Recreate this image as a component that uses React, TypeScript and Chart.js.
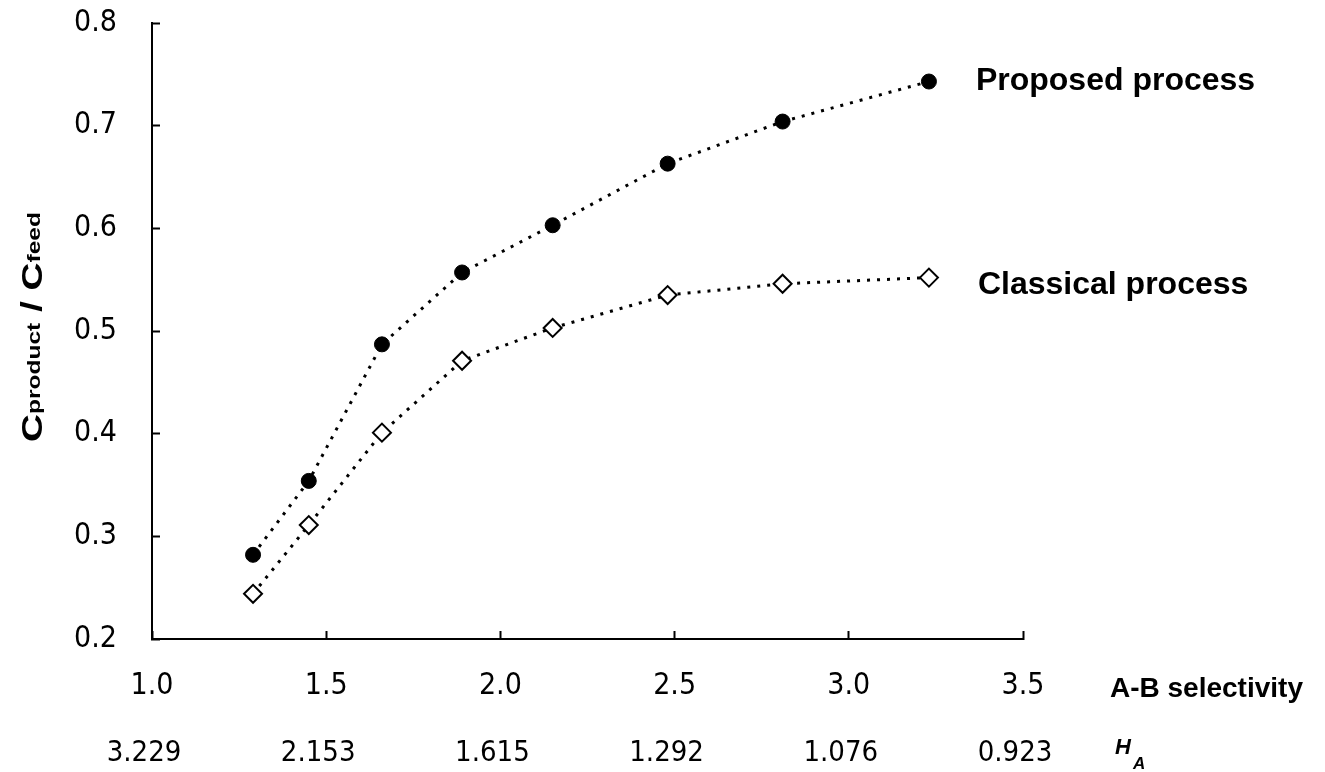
import React, { useEffect, useRef } from "react";
import { Chart, registerables } from "chart.js";

Chart.register(...registerables);

const selectivity = [1.29, 1.45, 1.66, 1.89, 2.15, 2.48, 2.81, 3.23];
const proposed = [0.282, 0.354, 0.487, 0.557, 0.603, 0.663, 0.704, 0.743];
const classical = [0.244, 0.311, 0.401, 0.471, 0.503, 0.535, 0.546, 0.552];
const seriesNames = ["Proposed process", "Classical process"];
const xTickValues = [1.0, 1.5, 2.0, 2.5, 3.0, 3.5];
const haLabels = ["3.229", "2.153", "1.615", "1.292", "1.076", "0.923"];

const FONT = "'Liberation Sans', Arial, sans-serif";
const NARROW = "'Liberation Sans Narrow', 'DejaVu Sans Condensed', 'Liberation Sans', sans-serif";

const annotationPlugin = {
  id: "annotations",
  afterDraw(chart: any) {
    const ctx = chart.ctx;
    ctx.save();
    ctx.fillStyle = "#000";
    ctx.textBaseline = "alphabetic";
    ctx.textAlign = "left";

    // series labels next to the last point of each dataset
    const offsets = [
      { dx: 47, dy: 8 },
      { dx: 49, dy: 16 },
    ];
    seriesNames.forEach((name, i) => {
      const meta = chart.getDatasetMeta(i);
      const last = meta.data[meta.data.length - 1];
      ctx.font = `bold 32px ${FONT}`;
      ctx.fillText(name, last.x + offsets[i].dx, last.y + offsets[i].dy);
    });

    // x axis title to the right of the axis
    const xs = chart.scales.x;
    ctx.font = `bold 28px ${FONT}`;
    ctx.fillText("A-B selectivity", xs.right + 87, 697);

    // H_A label
    ctx.font = `italic bold 22px ${FONT}`;
    ctx.fillText("H", xs.right + 92, 754);
    const hw = ctx.measureText("H").width;
    ctx.font = `italic bold 17px ${FONT}`;
    ctx.fillText("A", xs.right + 92 + hw + 2, 769);

    // y axis title (rotated)
    const ys = chart.scales.y;
    const cy = (ys.top + ys.bottom) / 2 - 4;
    const parts = [
      { t: "C", s: 30, dy: 0 },
      { t: "product", s: 19, dy: -2 },
      { t: " / ", s: 30, dy: 0 },
      { t: "C", s: 30, dy: 0 },
      { t: "feed", s: 19, dy: -2 },
    ];
    let total = 0;
    const widths = parts.map((p) => {
      ctx.font = `bold ${p.s}px ${FONT}`;
      const w = ctx.measureText(p.t).width;
      total += w;
      return w;
    });
    ctx.translate(42, cy);
    ctx.rotate(-Math.PI / 2);
    ctx.scale(1.29, 1);
    let x = -total / 2;
    parts.forEach((p, i) => {
      ctx.font = `bold ${p.s}px ${FONT}`;
      ctx.fillText(p.t, x, p.dy);
      x += widths[i];
    });
    ctx.restore();
  },
};

export default function App() {
  const ref = useRef<HTMLCanvasElement | null>(null);

  useEffect(() => {
    if (!ref.current) return;
    const chart = new Chart(ref.current, {
      type: "line",
      data: {
        datasets: [
          {
            label: seriesNames[0],
            data: selectivity.map((x, i) => ({ x, y: proposed[i] })),
            borderColor: "#000",
            borderWidth: 3,
            borderDash: [3, 7],
            pointStyle: "circle",
            pointRadius: 7.5,
            pointBackgroundColor: "#000",
            pointBorderColor: "#000",
            pointBorderWidth: 1,
            tension: 0,
            fill: false,
          },
          {
            label: seriesNames[1],
            data: selectivity.map((x, i) => ({ x, y: classical[i] })),
            borderColor: "#000",
            borderWidth: 3,
            borderDash: [3, 7],
            pointStyle: "rectRot",
            pointRadius: 9,
            pointBackgroundColor: "#fff",
            pointBorderColor: "#000",
            pointBorderWidth: 2,
            tension: 0,
            fill: false,
          },
        ],
      },
      options: {
        responsive: false,
        animation: false,
        layout: { padding: { left: 0, top: 23, right: 302, bottom: 0 } },
        plugins: {
          legend: { display: false },
          tooltip: { enabled: false },
        },
        scales: {
          x: {
            type: "linear",
            position: "bottom",
            min: 1.0,
            max: 3.5,
            afterBuildTicks: (s: any) => {
              s.ticks = xTickValues.map((v) => ({ value: v }));
            },
            afterFit: (s: any) => {
              s.height = 70;
              s.paddingLeft = 0;
              s.paddingRight = 0;
            },
            ticks: {
              color: "#000",
              font: { family: NARROW, size: 30 },
              padding: 37,
              maxRotation: 0,
              callback: (v: any) => Number(v).toFixed(1),
            },
            grid: {
              drawOnChartArea: false,
              drawTicks: true,
              tickLength: -8,
              tickWidth: 2,
              tickColor: "#000",
            },
            border: { color: "#000", width: 2 },
          },
          x2: {
            type: "linear",
            position: "bottom",
            min: 1.0,
            max: 3.5,
            afterBuildTicks: (s: any) => {
              s.ticks = xTickValues.map((v) => ({ value: v }));
            },
            afterFit: (s: any) => {
              s.height = 63;
              s.paddingLeft = 0;
              s.paddingRight = 0;
            },
            ticks: {
              color: "#000",
              font: { family: NARROW, size: 29 },
              padding: 27,
              maxRotation: 0,
              labelOffset: -8,
              callback: (_v: any, i: number) => haLabels[i],
            },
            grid: { display: false, drawTicks: false },
            border: { display: false },
          },
          y: {
            type: "linear",
            min: 0.2,
            max: 0.8,
            afterFit: (s: any) => {
              s.width = 152;
              s.paddingTop = 0;
              s.paddingBottom = 0;
            },
            ticks: {
              stepSize: 0.1,
              color: "#000",
              font: { family: NARROW, size: 30 },
              padding: 43,
              callback: (v: any) => Number(v).toFixed(1),
            },
            grid: {
              drawOnChartArea: false,
              drawTicks: true,
              tickLength: -8,
              tickWidth: 2,
              tickColor: "#000",
            },
            border: { color: "#000", width: 2 },
          },
        },
      },
      plugins: [annotationPlugin],
    } as any);
    return () => chart.destroy();
  }, []);

  return (
    <div style={{ position: "fixed", left: 0, top: 0, width: 1325, height: 772, background: "#fff" }}>
      <canvas ref={ref} width={1325} height={772} style={{ display: "block" }} />
    </div>
  );
}
